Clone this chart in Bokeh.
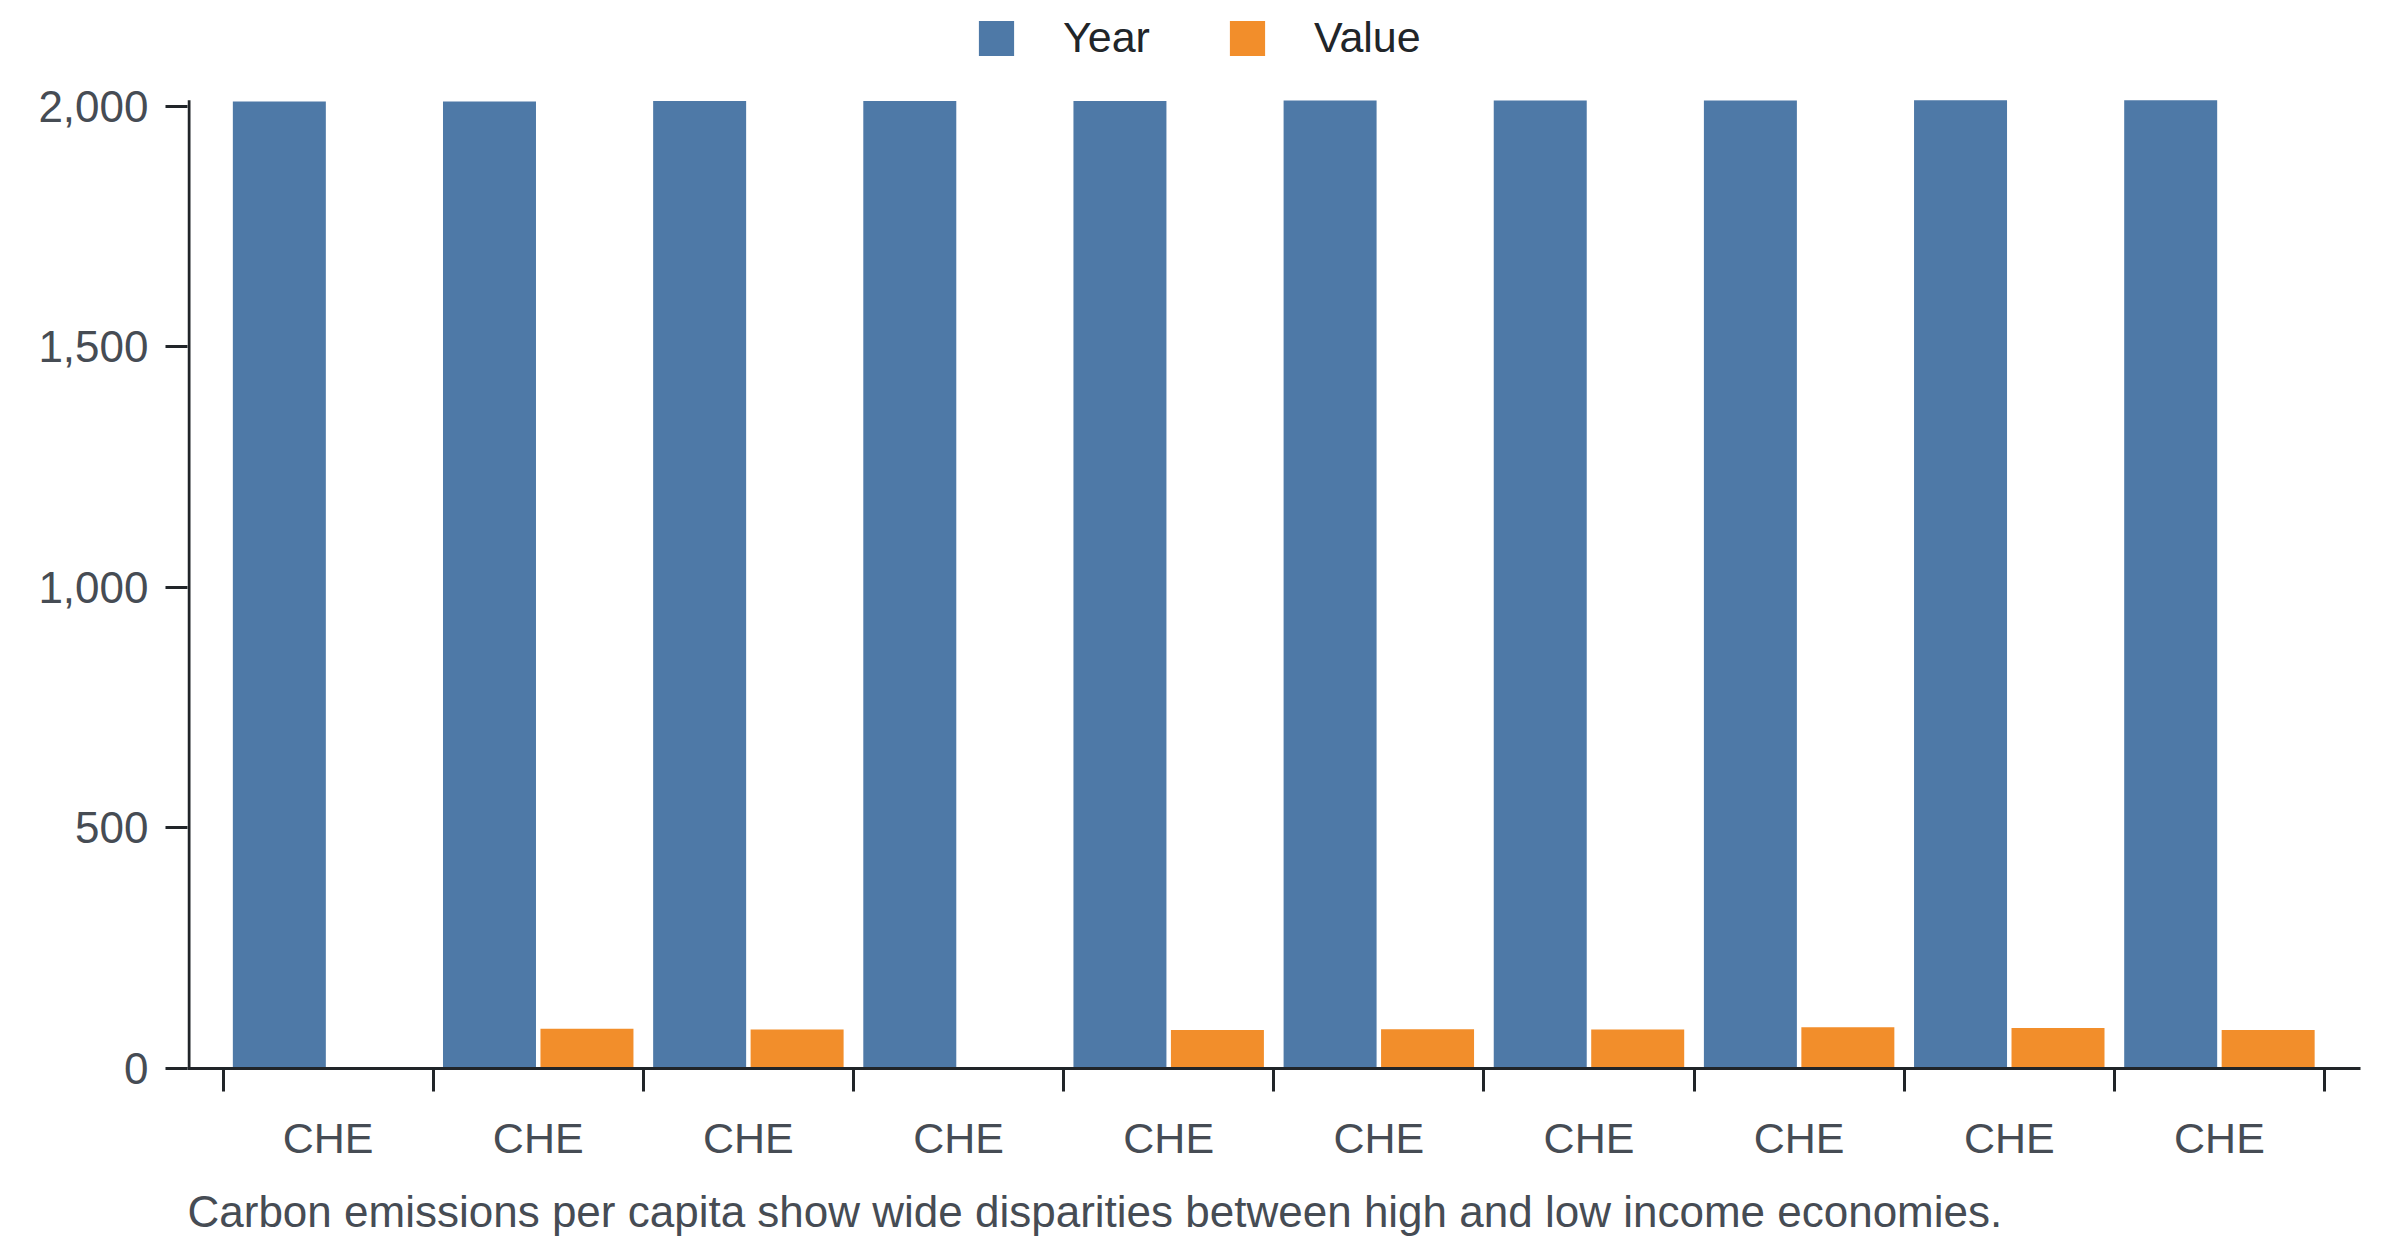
import numpy as np
from bokeh.plotting import figure
from bokeh.models import (ColumnDataSource, Range1d, FixedTicker, NumeralTickFormatter,
                          Legend, LegendItem, Title)
from bokeh.transform import dodge
from bokeh.embed import file_html
from bokeh.resources import INLINE

# ---------------- data ----------------
countries = ["CHE", "CHE", "CHE", "CHE", "CHE", "CHE", "CHE", "CHE", "CHE", "CHE"]
years = [2010, 2010, 2011, 2011, 2011, 2012, 2012, 2012, 2013, 2013]
values = [np.nan, 82.5, 81, np.nan, 80, 81.5, 81, 85.5, 84, 80]
series = ["Year", "Value"]
colors = ["#4e79a7", "#f28e2b"]
y_ticks = [0, 500, 1000, 1500, 2000]
caption = "Carbon emissions per capita show wide disparities between high and low income economies."

# ---------------- layout (pixels) ----------------
W, H = 2384, 1256
FL, FR = 187, 2360          # frame left / right
AX_TOP, FB = 100, 1072      # top of the value axis, frame bottom (y = 0)
n = len(countries)
step = 210.15
first_boundary = 222.5
x_start = -(first_boundary - FL) / step
x_end = n + (FR - (first_boundary + n * step)) / step
y_end = max(years) * FB / (FB - AX_TOP)   # frame reaches the top; axis stops at max value
axis_x = x_start + 1.5 / step             # centre of the drawn value-axis line

FONT = "Liberation Sans"
AXIS = "#212529"
LABEL = "#464c54"

pos = list(np.arange(n) + 0.5)
src = ColumnDataSource(dict(x=pos, Year=years, Value=values))

p = figure(width=W, height=H, x_range=Range1d(x_start, x_end), y_range=Range1d(0, y_end),
           output_backend="svg", toolbar_location=None,
           min_border_left=FL, min_border_right=W - FR, min_border_top=0, min_border_bottom=H - FB)
p.outline_line_color = None
p.xgrid.visible = False
p.ygrid.visible = False
p.background_fill_color = "white"
p.border_fill_color = "white"

bw = 0.4425
off = 0.2319
r1 = p.vbar(x=dodge("x", -off), top=series[0], width=bw, source=src,
            fill_color=colors[0], line_color=None)
r2 = p.vbar(x=dodge("x", off), top=series[1], width=bw, source=src,
            fill_color=colors[1], line_color=None)

# value-axis line, from 0 to the largest value (like a d3 domain path)
p.segment(x0=[axis_x], y0=[0], x1=[axis_x], y1=[max(years)], line_width=3, line_color=AXIS)

# x axis: boundary ticks drawn as minor ticks, country labels at band centres
xa = p.xaxis[0]
xa.ticker = FixedTicker(ticks=pos, minor_ticks=list(range(n + 1)))
xa.major_label_overrides = {float(v): c for v, c in zip(pos, countries)}
xa.major_tick_line_color = None
xa.major_tick_out = 0
xa.major_tick_in = 0
xa.minor_tick_out = 23
xa.minor_tick_in = 0
xa.minor_tick_line_width = 3
xa.minor_tick_line_color = AXIS
xa.axis_line_width = 3
xa.axis_line_color = AXIS
xa.major_label_standoff = 22
xa.major_label_text_font = FONT
xa.major_label_text_font_size = "43px"
xa.major_label_text_color = LABEL

ya = p.yaxis[0]
ya.ticker = FixedTicker(ticks=y_ticks)
ya.formatter = NumeralTickFormatter(format="0,0")
ya.axis_line_color = None
ya.major_tick_out = 22
ya.major_tick_in = 0
ya.major_tick_line_width = 3
ya.major_tick_line_color = AXIS
ya.major_label_standoff = 17
ya.major_label_text_font = FONT
ya.major_label_text_font_size = "44px"
ya.major_label_text_color = LABEL

legend = Legend(items=[LegendItem(label=series[0], renderers=[r1]),
                       LegendItem(label=series[1], renderers=[r2])],
                orientation="horizontal", location=(974 - FL, 1006),
                glyph_width=44, glyph_height=44, label_standoff=45, spacing=75,
                padding=0, margin=0, border_line_color=None, background_fill_alpha=0,
                label_text_font=FONT, label_text_font_size="43px", label_text_color=AXIS)
p.add_layout(legend)

t = Title(text=caption, align="left", offset=0, standoff=41,
          text_font=FONT, text_font_size="44px", text_font_style="normal", text_color=LABEL)
p.add_layout(t, "below")

open("out.html", "w").write(file_html(p, INLINE))
